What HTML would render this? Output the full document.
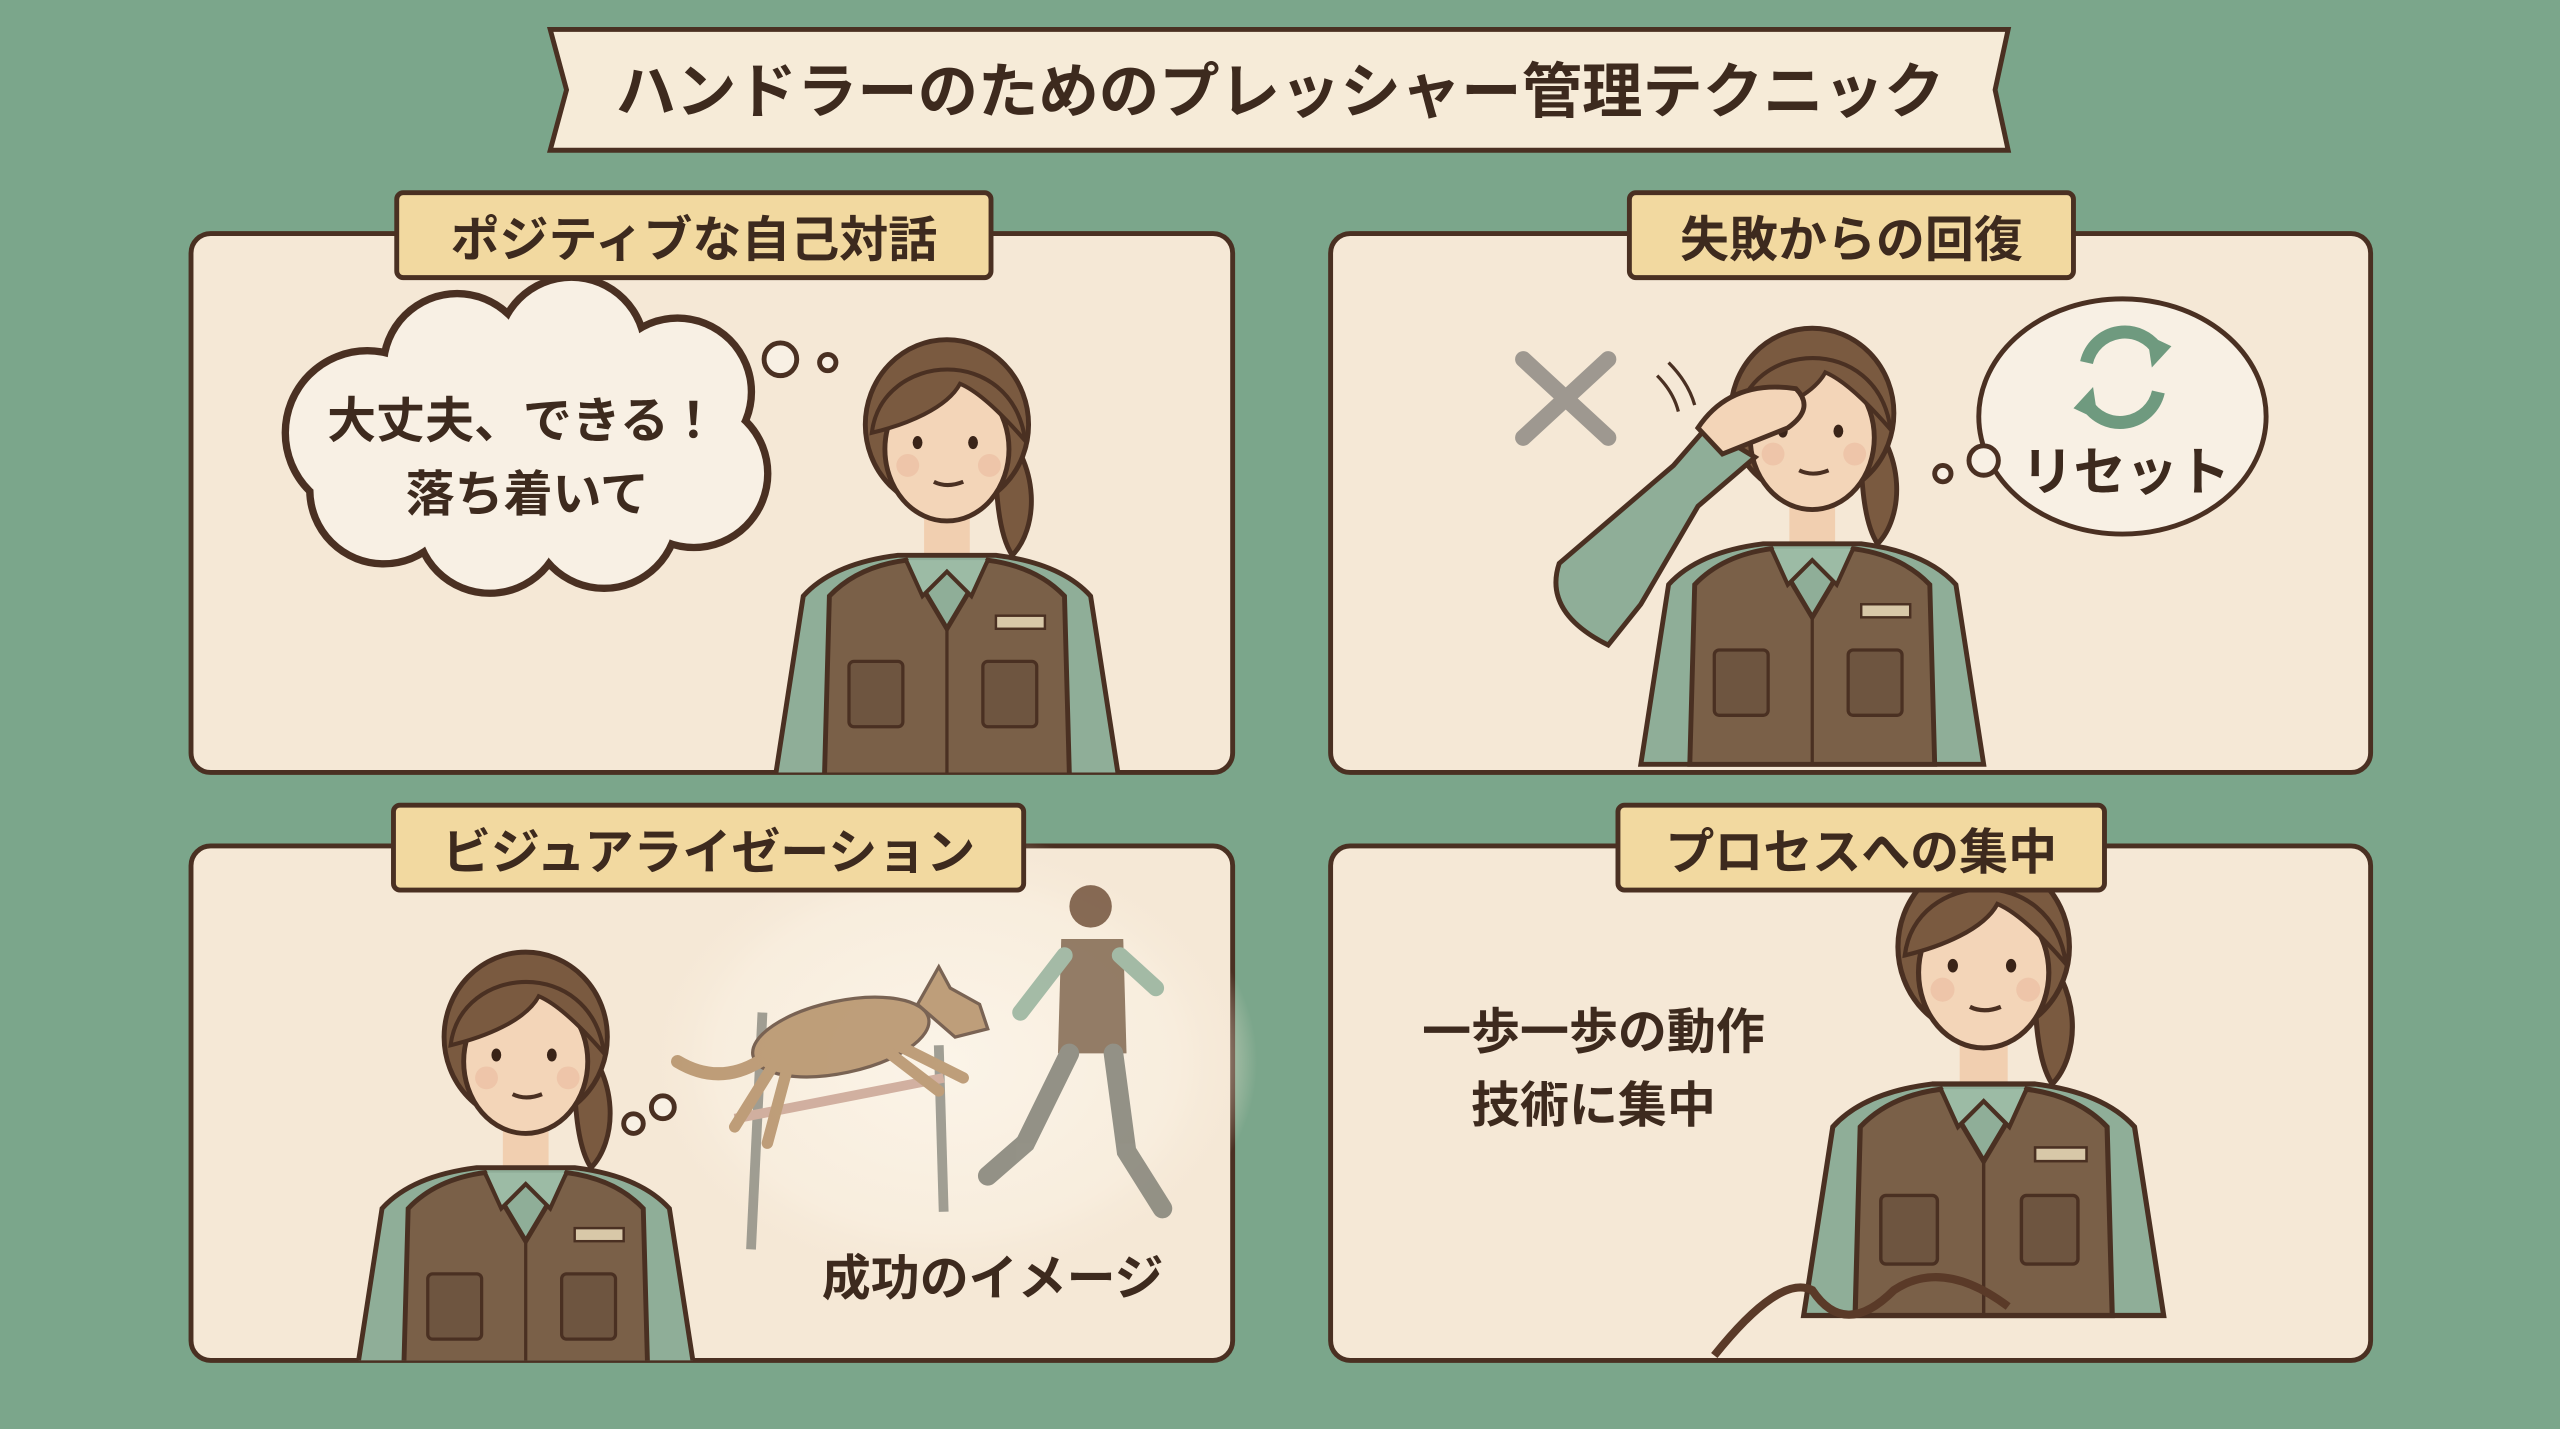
<!DOCTYPE html>
<html><head><meta charset="utf-8"><style>
html,body{margin:0;padding:0;background:#7ba68b;}
svg{display:block}
text{font-family:"Liberation Sans","Noto Sans CJK JP",sans-serif;font-weight:bold;fill:#3d2a1e}
</style></head><body>
<svg width="2560" height="1429" viewBox="0 0 1568 875" preserveAspectRatio="none" xmlns="http://www.w3.org/2000/svg">
<defs>
<g id="person">
  <path d="M28,-10 C60,20 55,60 40,75 C30,60 30,30 28,-10Z" fill="#7a5a40" stroke="#4a3022" stroke-width="3"/>
  <rect x="-14" y="40" width="28" height="40" fill="#f1cfb0"/>
  <path d="M-105,210 L-88,100 Q-70,80 -30,75 L30,75 Q70,80 88,100 L105,210Z" fill="#8fae98" stroke="#4a3022" stroke-width="3"/>
  <path d="M-75,210 L-72,100 Q-55,82 -25,78 L0,120 L25,78 Q55,82 72,100 L75,210Z" fill="#7a6048" stroke="#4a3022" stroke-width="3"/>
  <path d="M-25,78 L-15,100 L0,85 L15,100 L25,78" fill="#9cbba5" stroke="#4a3022" stroke-width="2.5"/>
  <line x1="0" y1="120" x2="0" y2="210" stroke="#4a3022" stroke-width="2"/>
  <rect x="-60" y="140" width="33" height="40" rx="3" fill="#6e5540" stroke="#4a3022" stroke-width="2"/>
  <rect x="22" y="140" width="33" height="40" rx="3" fill="#6e5540" stroke="#4a3022" stroke-width="2"/>
  <rect x="30" y="112" width="30" height="8" fill="#d8c8a8" stroke="#4a3022" stroke-width="1.5"/>
  <ellipse cx="0" cy="-5" rx="50" ry="52" fill="#7a5a40" stroke="#4a3022" stroke-width="3"/>
  <ellipse cx="0" cy="10" rx="38" ry="44" fill="#f3d5b8" stroke="#4a3022" stroke-width="3"/>
  <path d="M-46,0 C-40,-50 40,-55 48,5 C35,-10 20,-25 8,-30 C0,-15 -25,-5 -46,0Z" fill="#7a5a40" stroke="#4a3022" stroke-width="2.5"/>
  <ellipse cx="-18" cy="6" rx="3" ry="4" fill="#3a2418"/>
  <ellipse cx="16" cy="6" rx="3" ry="4" fill="#3a2418"/>
  <path d="M-8,30 Q0,34 10,30" fill="none" stroke="#4a3022" stroke-width="2.5"/>
  <circle cx="-24" cy="20" r="7" fill="#eab69a" opacity=".5"/><circle cx="26" cy="20" r="7" fill="#eab69a" opacity=".5"/>
</g>
<clipPath id="c1"><rect x="117" y="143" width="638" height="330" rx="12"/></clipPath>
<clipPath id="c2"><rect x="815" y="143" width="637" height="330" rx="12"/></clipPath>
<clipPath id="c3"><rect x="117" y="518" width="638" height="315" rx="12"/></clipPath>
<clipPath id="c4"><rect x="815" y="518" width="637" height="315" rx="12"/></clipPath>
<radialGradient id="glow"><stop offset="0" stop-color="#fbf4e8"/><stop offset=".75" stop-color="#f8eddd"/><stop offset="1" stop-color="#f5e8d6" stop-opacity="0"/></radialGradient>
</defs>

<path d="M337,18 L1230,18 L1222,55 L1230,92 L337,92 L347,55Z" fill="#f6ebd8" stroke="#4a3022" stroke-width="3"/>
<text x="784" y="69" font-size="37" text-anchor="middle">ハンドラーのためのプレッシャー管理テクニック</text>

<g fill="#f5e8d6" stroke="#4a3022" stroke-width="3">
<rect x="117" y="143" width="638" height="330" rx="12"/>
<rect x="815" y="143" width="637" height="330" rx="12"/>
<rect x="117" y="518" width="638" height="315" rx="12"/>
<rect x="815" y="518" width="637" height="315" rx="12"/>
</g>

<!-- TL -->
<g clip-path="url(#c1)"><use href="#person" transform="translate(580,265)"/></g>
<g stroke="#4a3022" stroke-width="5" fill="#f8f0e4">
<circle cx="225" cy="265" r="50"/><circle cx="280" cy="225" r="45"/><circle cx="350" cy="215" r="45"/><circle cx="415" cy="240" r="45"/><circle cx="425" cy="290" r="45"/><circle cx="370" cy="315" r="45"/><circle cx="300" cy="318" r="45"/><circle cx="235" cy="300" r="45"/>
</g>
<g fill="#f8f0e4">
<circle cx="225" cy="265" r="48"/><circle cx="280" cy="225" r="43"/><circle cx="350" cy="215" r="43"/><circle cx="415" cy="240" r="43"/><circle cx="425" cy="290" r="43"/><circle cx="370" cy="315" r="43"/><circle cx="300" cy="318" r="43"/><circle cx="235" cy="300" r="43"/><ellipse cx="320" cy="268" rx="110" ry="60"/>
</g>
<circle cx="478" cy="220" r="10" fill="#f8f0e4" stroke="#4a3022" stroke-width="3"/>
<circle cx="507" cy="222" r="5" fill="#f8f0e4" stroke="#4a3022" stroke-width="3"/>
<text x="320" y="268" font-size="30" text-anchor="middle">大丈夫、できる！</text>
<text x="323" y="313" font-size="30" text-anchor="middle">落ち着いて</text>
<rect x="243" y="118" width="364" height="52" rx="4" fill="#f2d9a0" stroke="#4a3022" stroke-width="3"/>
<text x="425" y="157" font-size="30" text-anchor="middle">ポジティブな自己対話</text>

<!-- TR -->
<g clip-path="url(#c2)"><use href="#person" transform="translate(1110,258)"/>
<path d="M985,395 Q945,375 955,345 L1025,285 L1045,262 L1075,280 L1040,310 L1005,370Z" fill="#8fae98" stroke="#4a3022" stroke-width="3"/>
<path d="M1040,262 Q1060,232 1100,238 Q1112,250 1095,262 Q1070,272 1055,278Z" fill="#f3d5b8" stroke="#4a3022" stroke-width="3"/>
</g>
<path d="M1015,230 Q1025,240 1028,252 M1022,222 Q1034,234 1038,248" fill="none" stroke="#4a3022" stroke-width="2"/>
<path d="M933,220 L985,268 M985,220 L933,268" stroke="#9e9890" stroke-width="10" stroke-linecap="round"/>
<ellipse cx="1300" cy="255" rx="88" ry="72" fill="#f8f0e4" stroke="#4a3022" stroke-width="3"/>
<circle cx="1215" cy="282" r="9" fill="#f8f0e4" stroke="#4a3022" stroke-width="3"/>
<circle cx="1190" cy="290" r="5" fill="#f8f0e4" stroke="#4a3022" stroke-width="3"/>
<path d="M1278,222 A24,24 0 0 1 1322,215" fill="none" stroke="#6f9a7f" stroke-width="8"/>
<path d="M1315,205 L1330,212 L1318,225Z" fill="#6f9a7f"/>
<path d="M1322,240 A24,24 0 0 1 1278,247" fill="none" stroke="#6f9a7f" stroke-width="8"/>
<path d="M1285,257 L1270,250 L1282,237Z" fill="#6f9a7f"/>
<text x="1302" y="300" font-size="32" text-anchor="middle">リセット</text>
<rect x="998" y="118" width="272" height="52" rx="4" fill="#f2d9a0" stroke="#4a3022" stroke-width="3"/>
<text x="1134" y="157" font-size="30" text-anchor="middle">失敗からの回復</text>

<!-- BL -->
<ellipse cx="580" cy="650" rx="190" ry="140" fill="url(#glow)"/>
<g opacity=".8">
<line x1="467" y1="620" x2="460" y2="765" stroke="#8a8a80" stroke-width="6"/>
<line x1="575" y1="640" x2="578" y2="742" stroke="#8a8a80" stroke-width="6"/>
<line x1="450" y1="685" x2="578" y2="660" stroke="#c8a090" stroke-width="6"/>
<ellipse cx="515" cy="635" rx="55" ry="22" transform="rotate(-12 515 635)" fill="#b08a60" stroke="#5a4030" stroke-width="2"/>
<path d="M562,615 L575,592 L582,605 L600,615 L605,630 L585,635Z" fill="#b08a60" stroke="#5a4030" stroke-width="2"/>
<path d="M465,650 Q440,665 415,650" fill="none" stroke="#b08a60" stroke-width="8" stroke-linecap="round"/>
<path d="M550,640 L590,660 M545,645 L575,668 M475,650 L450,690 M482,655 L470,700" stroke="#b08a60" stroke-width="7" stroke-linecap="round"/>
<circle cx="668" cy="555" r="13" fill="#6b4a33"/>
<path d="M650,575 L688,575 L690,645 L648,645Z" fill="#7a6048"/>
<path d="M655,645 L628,700 L605,720 M682,645 L690,705 L712,740" fill="none" stroke="#7a7a70" stroke-width="12" stroke-linecap="round"/>
<path d="M652,585 L625,620 M686,585 L708,605" stroke="#8fae98" stroke-width="10" stroke-linecap="round"/>
</g>
<g clip-path="url(#c3)"><use href="#person" transform="translate(322,640)"/></g>
<circle cx="388" cy="688" r="6" fill="#f8f0e4" stroke="#4a3022" stroke-width="3"/>
<circle cx="406" cy="678" r="7" fill="#f8f0e4" stroke="#4a3022" stroke-width="3"/>
<text x="608" y="793" font-size="30" text-anchor="middle">成功のイメージ</text>
<rect x="241" y="493" width="386" height="52" rx="4" fill="#f2d9a0" stroke="#4a3022" stroke-width="3"/>
<text x="434" y="532" font-size="30" text-anchor="middle">ビジュアライゼーション</text>

<!-- BR -->
<g clip-path="url(#c4)"><use href="#person" transform="translate(1215,585) scale(1.05)"/>
<path d="M1050,830 Q1090,780 1110,790 Q1130,820 1160,790 Q1190,770 1230,800" fill="none" stroke="#5a3a28" stroke-width="5"/>
</g>
<text x="976" y="642" font-size="30" text-anchor="middle">一歩一歩の動作</text>
<text x="976" y="687" font-size="30" text-anchor="middle">技術に集中</text>
<rect x="991" y="493" width="298" height="52" rx="4" fill="#f2d9a0" stroke="#4a3022" stroke-width="3"/>
<text x="1140" y="532" font-size="30" text-anchor="middle">プロセスへの集中</text>
</svg>
</body></html>
